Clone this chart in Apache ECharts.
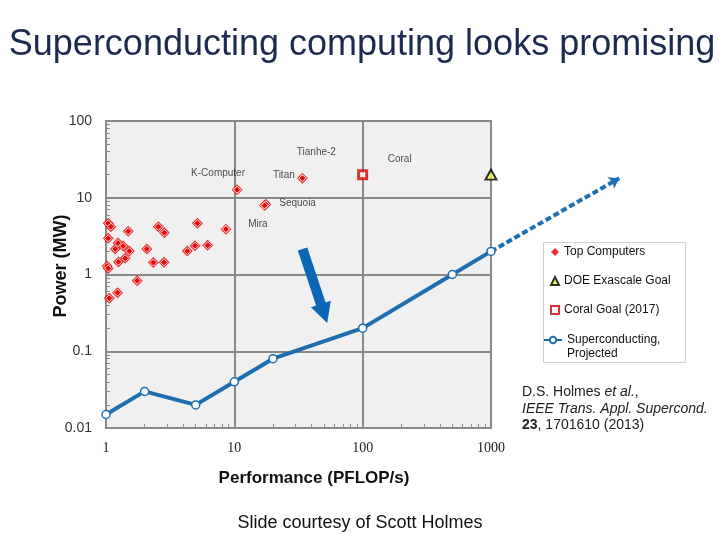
<!DOCTYPE html>
<html>
<head>
<meta charset="utf-8">
<script src="https://cdn.jsdelivr.net/npm/echarts@6/dist/echarts.min.js"></script>
<style>html,body{margin:0;padding:0;background:#fff;}#c{width:720px;height:540px;}</style>
</head>
<body>
<div id="c"></div>
<script>
// ---- data ----
var topPF = [1.04,1.09,1.04,1.49,2.56,2.85,5.15,1.24,1.36,1.18,1.52,2.08,4.3,4.94,6.2,1.41,1.25,2.34,2.83,1.02,1.04,1.75,1.23,1.06];
var topMW = [4.65,4.2,2.96,3.66,4.2,3.5,4.65,2.57,2.35,2.15,2.02,2.15,2.02,2.37,2.4,1.63,1.46,1.43,1.44,1.29,1.2,0.83,0.58,0.49];
var namedSystems = ['K-Computer','Tianhe-2','Titan','Sequoia','Mira'];
var namedPF = [10.5,33.9,17.6,17.2,8.6];
var namedMW = [12.7,18,8.2,7.9,3.9];
var coralPF = [100], coralMW = [20];
var doePF = [1000], doeMW = [20];
var scPF = [1,2,5,10,20,100,500,1000];
var scMW = [0.015,0.03,0.02,0.04,0.08,0.2,1,2];
var projPF = [1000,10000];
var projMW = [2,18];
var arrowPF = [34,50];
var arrowMW = [2.15,0.31];
var xTickLabels = ['1','10','100','1000'];
var yTickLabels = ['0.01','0.1','1','10','100'];

// ---- styles ----
var labelOffsets = {'K-Computer':[-19,-17],'Tianhe-2':[14,-26],'Titan':[18,-29],'Sequoia':[33,-2],'Mira':[32,-5],'Coral':[37,-15]};
var RED = '#e60000', BLUE = '#1f6eb0', ARROW = '#0b66b5', GRIDC = '#8a8a8a';
var SANS = 'Liberation Sans, Arial, sans-serif';

function pairs(xs, ys){ return xs.map(function(x,i){ return [x, ys[i]]; }); }
function minorValues(lo, hi){ var out=[]; for (var d=lo; d<hi; d*=10){ for (var k=2;k<=9;k++){ out.push(+(d*k).toPrecision(3)); } } return out; }
var allTop = pairs(topPF, topMW).concat(pairs(namedPF, namedMW));
var namedData = namedSystems.map(function(n,i){
  return {name:n, value:[namedPF[i], namedMW[i]],
    label:{show:true, formatter:n, position:'inside', offset:labelOffsets[n], fontSize:10, color:'#222', fontFamily:SANS}};
});
function fmtTick(labels){ return function(v){ var k = Math.round(Math.log10(v)) - Math.round(Math.log10(Number(labels[0]))); return labels[k] !== undefined ? labels[k] : ''; }; }

var chart = echarts.init(document.getElementById('c'), null, {renderer:'canvas'});
function minorAxis(pos, min, max){
  return {type:'log', logBase:10, min:min, max:max, position:pos, offset:0,
    axisLine:{show:false}, splitLine:{show:false}, axisLabel:{show:false},
    axisTick:{show:true, inside:true, length:4, customValues:minorValues(min,max), lineStyle:{color:GRIDC, width:1}}};
}
function buildOption(rotArrow){
return {
  animation:false,
  grid:{left:106, top:121, width:385, height:307, show:true, backgroundColor:'#f0f0f0', borderColor:GRIDC, borderWidth:2},
  xAxis:[{type:'log', logBase:10, min:1, max:1000, position:'bottom',
    axisLine:{show:false}, axisTick:{show:false},
    splitLine:{show:true, lineStyle:{color:GRIDC, width:2}},
    axisLabel:{margin:13, fontSize:14, color:'#222', fontFamily:'Liberation Serif, serif', formatter:fmtTick(xTickLabels)}},
    minorAxis('bottom', 1, 1000)],
  yAxis:[{type:'log', logBase:10, min:0.01, max:100, position:'left',
    axisLine:{show:false}, axisTick:{show:false},
    splitLine:{show:true, lineStyle:{color:GRIDC, width:2}},
    axisLabel:{margin:14, fontSize:14, color:'#333', fontFamily:SANS, formatter:fmtTick(yTickLabels)}},
    minorAxis('left', 0.01, 100)],
  legend:[
    {orient:'vertical', left:550, top:246, padding:0, itemGap:17, itemWidth:8, itemHeight:8,
      textStyle:{fontSize:12, color:'#111', fontFamily:SANS},
      data:['Top Computers','DOE Exascale Goal','Coral Goal (2017)']},
    {orient:'vertical', left:543, top:319, padding:0, itemWidth:18, itemHeight:8,
      textStyle:{fontSize:12, color:'#111', fontFamily:SANS, lineHeight:14},
      formatter:function(n){ return ' \n' + n; },
      data:['Superconducting,\nProjected']}
  ],
  series:[
    {name:'Top Computers', type:'scatter', symbol:'diamond', symbolSize:11, itemStyle:{color:RED}, data:allTop, z:3},
    {name:'Top inner', type:'scatter', symbol:'diamond', symbolSize:7, itemStyle:{color:RED, borderColor:'#fff', borderWidth:1}, data:allTop, z:4},
    {name:'Top labels', type:'scatter', symbol:'diamond', symbolSize:7, itemStyle:{color:RED, borderColor:'#fff', borderWidth:1}, data:namedData, z:5},
    {name:'DOE Exascale Goal', type:'scatter', symbol:'triangle', symbolSize:[11,10], itemStyle:{color:'#f5f55a', borderColor:'#000', borderWidth:2},
      data:pairs(doePF, doeMW), clip:false, z:5},
    {name:'Coral Goal (2017)', type:'scatter', symbol:'rect', symbolSize:8, itemStyle:{color:'#fff', borderColor:'#d40000', borderWidth:3},
      data:pairs(coralPF, coralMW).map(function(v){ return {name:'Coral', value:v,
        label:{show:true, formatter:'Coral', position:'inside', offset:labelOffsets['Coral'], fontSize:10, color:'#222', fontFamily:SANS}}; }), z:5},
    {name:'Projected', type:'lines', coordinateSystem:'cartesian2d', clip:false, z:2,
      symbol:['none','arrow'], symbolSize:10,
      lineStyle:{color:BLUE, width:4, type:[6,3], opacity:1},
      data:[{coords:pairs(projPF, projMW)}]},
    {name:'Superconducting,\nProjected', type:'line', symbol:'circle', symbolSize:8, showSymbol:true, z:3, clip:false,
      lineStyle:{color:BLUE, width:4}, itemStyle:{color:'#fff', borderColor:BLUE, borderWidth:1.5},
      data:pairs(scPF, scMW)},
    {name:'Arrow', type:'line', clip:false, symbol:'triangle', z:6,
      lineStyle:{color:ARROW, width:10}, itemStyle:{color:ARROW},
      data:pairs(arrowPF, arrowMW).map(function(v,i){ return i===0 ? {value:v, symbol:'none'} : {value:v, symbolSize:[21,20], symbolRotate:rotArrow}; })}
  ],
  graphic:[
    {type:'rect', shape:{x:543.5, y:242.5, width:142, height:120}, style:{fill:'#fff', stroke:'#c6d4e0', lineWidth:1}, z:-1},
    {type:'text', x:362, y:45, style:{text:'Superconducting computing looks promising', font:'36px '+SANS, fill:'#1b2a4e', align:'center', verticalAlign:'middle'}},
    {type:'text', x:61, y:266, rotation:Math.PI/2, style:{text:'Power (MW)', font:'bold 18px '+SANS, fill:'#111', align:'center', verticalAlign:'middle'}},
    {type:'text', x:314, y:478, style:{text:'Performance (PFLOP/s)', font:'bold 17px '+SANS, fill:'#111', align:'center', verticalAlign:'middle'}},
    {type:'text', x:360, y:523, style:{text:'Slide courtesy of Scott Holmes', font:'18px '+SANS, fill:'#111', align:'center', verticalAlign:'middle'}},
    {type:'text', x:522, y:384, style:{
      text:'D.S. Holmes {i|et al.},\n{i|IEEE Trans. Appl. Supercond.}\n{b|23}, 1701610 (2013)',
      font:'14px '+SANS, fill:'#222', align:'left', verticalAlign:'top', lineHeight:16.5,
      rich:{i:{fontStyle:'italic', fontSize:14, fontFamily:SANS, fill:'#222', lineHeight:16.5}, b:{fontWeight:'bold', fontSize:14, fontFamily:SANS, fill:'#222', lineHeight:16.5}}}}
  ]
};
}
chart.setOption(buildOption(0));
function rot(a, b){
  var p = chart.convertToPixel({xAxisIndex:0, yAxisIndex:0}, a), q = chart.convertToPixel({xAxisIndex:0, yAxisIndex:0}, b);
  var dx = q[0]-p[0], dy = q[1]-p[1];
  return Math.atan2(-dx, -dy) * 180 / Math.PI;
}
var rA = rot([arrowPF[0],arrowMW[0]],[arrowPF[1],arrowMW[1]]);
chart.setOption(buildOption(rA));
</script>
</body>
</html>
